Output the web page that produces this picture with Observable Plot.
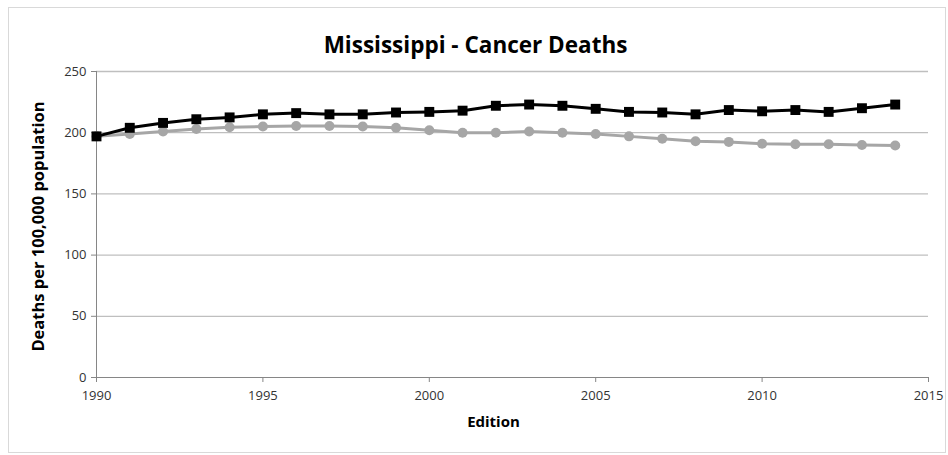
<!DOCTYPE html>
<html>
<head>
<meta charset="utf-8">
<script src="https://cdn.jsdelivr.net/npm/d3@7"></script>
<script src="https://cdn.jsdelivr.net/npm/@observablehq/plot@0.6"></script>
<style>
  html, body { margin: 0; padding: 0; background: #fff; }
  #wrap { position: relative; width: 948px; height: 455px; }
  #border { position: absolute; left: 8px; top: 7px; width: 936px; height: 444px; border: 1px solid #d9d9d9; pointer-events: none; }
  svg { font-family: "Open Sans", Lato, sans-serif; }
</style>
</head>
<body>
<div id="wrap"><div id="border"></div></div>
<script>
const title = "Mississippi - Cancer Deaths";
const xLabel = "Edition";
const yLabel = "Deaths per 100,000 population";
const years = [1990,1991,1992,1993,1994,1995,1996,1997,1998,1999,2000,2001,2002,2003,2004,2005,2006,2007,2008,2009,2010,2011,2012,2013,2014];
const blackSeries = [197,204,208,211,212.5,215,216,215,215,216.5,217,218,222,223,222,219.5,217,216.5,215,218.5,217.5,218.5,217,220,223];
const graySeries  = [197,199,201,203,204.5,205,205.5,205.5,205,204,202,200,200,201,200,199,197,195,193,192.5,191,190.5,190.5,190,189.5];
const xTicks = [1990,1995,2000,2005,2010,2015];
const yTicks = [0,50,100,150,200,250];

const black = years.map((x, i) => ({x, y: blackSeries[i]}));
const gray = years.map((x, i) => ({x, y: graySeries[i]}));

const chart = Plot.plot({
  width: 948,
  height: 455,
  marginLeft: 96,
  marginRight: 20,
  marginTop: 71,
  marginBottom: 78,
  style: {fontFamily: "'Open Sans', Lato, sans-serif", fontSize: "13px", color: "#333", background: "#fff"},
  x: {domain: [1990, 2015], ticks: xTicks, tickFormat: d => String(d), label: null},
  y: {domain: [0, 250], ticks: yTicks, label: null},
  marks: [
    Plot.gridY(yTicks.filter(d => d > 0), {stroke: "#bfbfbf", strokeOpacity: 1, strokeWidth: 1.3}),
    Plot.axisY({ticks: yTicks, tickSize: 5, tickPadding: 5, stroke: "#868686", fontSize: 13, label: null}),
    Plot.axisX({ticks: xTicks, tickSize: 5, tickPadding: 8, stroke: "#868686", fontSize: 13, tickFormat: d => String(d), label: null}),
    Plot.ruleX([1990], {stroke: "#868686"}),
    Plot.ruleY([0], {stroke: "#868686"}),
    Plot.line(gray, {x: "x", y: "y", stroke: "#a6a6a6", strokeWidth: 3}),
    Plot.dot(gray, {x: "x", y: "y", fill: "#a6a6a6", r: 5, symbol: "circle"}),
    Plot.line(black, {x: "x", y: "y", stroke: "#000", strokeWidth: 3}),
    Plot.dot(black, {x: "x", y: "y", fill: "#000", r: 5.6, symbol: "square"}),
    Plot.text([title], {frameAnchor: "top", dx: -37, dy: -34, fontSize: 22.5, fontWeight: "bold", fill: "#000"}),
    Plot.text([xLabel], {frameAnchor: "bottom", dx: -19, dy: 49, fontSize: 15, fontWeight: "bold", fill: "#000"}),
    Plot.text([yLabel], {frameAnchor: "left", textAnchor: "middle", dx: -58, dy: 2, rotate: -90, fontSize: 16.5, fontWeight: "bold", fill: "#000"})
  ]
});
document.getElementById("wrap").appendChild(chart);
</script>
</body>
</html>
